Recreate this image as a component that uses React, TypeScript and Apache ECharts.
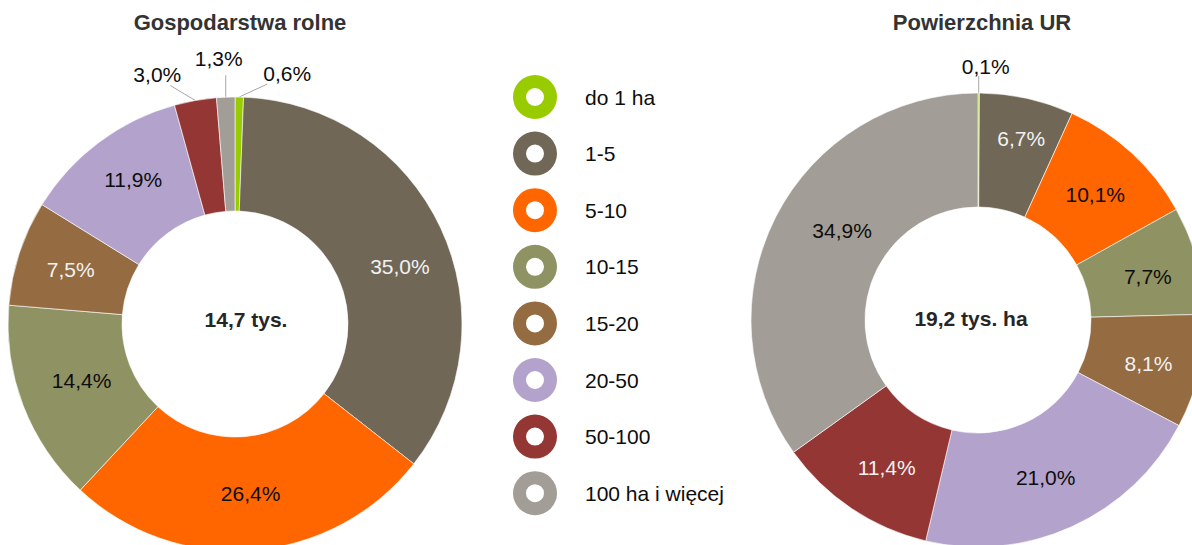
import React, { useEffect, useRef } from "react";
import * as echarts from "echarts";

const categories = ["do 1 ha", "1-5", "5-10", "10-15", "15-20", "20-50", "50-100", "100 ha i więcej"];
const farmsShare = [0.6, 35.0, 26.4, 14.4, 7.5, 11.9, 3.0, 1.3];
const areaShare = [0.1, 6.7, 10.1, 7.7, 8.1, 21.0, 11.4, 34.9];
const titles = ["Gospodarstwa rolne", "Powierzchnia UR"];
const totals = ["14,7 tys.", "19,2 tys. ha"];

const colors = ["#99CC00", "#716757", "#FF6600", "#8F9263", "#956B42", "#B3A2CC", "#943634", "#A29E97"];
const LIGHT = "#f2f2f2";
const DARK = "#0d0d0d";
const farmsLabelColors = [DARK, LIGHT, DARK, DARK, LIGHT, DARK, DARK, DARK];
const areaLabelColors = [DARK, LIGHT, DARK, DARK, LIGHT, DARK, LIGHT, DARK];

// outside label placement: [labelDx, labelDy, lineEndDx, lineEndDy] relative to the slice's outer edge point
const farmsOutside: Record<number, number[]> = {
  0: [48, -24, 28, -13],
  6: [-38, -26, -25, -15],
  7: [-7, -39, 0, -22],
};
const areaOutside: Record<number, number[]> = {
  0: [7, -27, 0, -17],
};
// small nudges of inside labels: [dx, dy]
const farmsNudge: Record<number, number[]> = {
  1: [8, 15],
  2: [2, -3],
  3: [8, -6],
  5: [2, -6],
};
const areaNudge: Record<number, number[]> = {
  1: [6, -13],
  2: [0, 2],
  3: [3, 2],
  4: [2, 4],
  5: [-4, 0],
  6: [5, 4],
  7: [18, -10],
};

const FONT = "'Liberation Sans', Arial, sans-serif";
const RING = "path://M22,0A22,22,0,1,1,22,44A22,22,0,1,1,22,0ZM22,13A9,9,0,1,0,22,31A9,9,0,1,0,22,13Z";

function fmt(v: number) {
  return v.toFixed(1).replace(".", ",") + "%";
}

function buildData(values: number[], labelColors: string[], outside: Record<number, number[]>) {
  return values.map((v, i) => ({
    name: categories[i],
    value: v,
    itemStyle: { color: colors[i] },
    label: outside[i]
      ? { position: "outside", color: DARK }
      : { position: "inside", color: labelColors[i] },
    labelLine: { show: !!outside[i] },
  }));
}

function makeLayout(outside: Record<number, number[]>, nudge: Record<number, number[]>) {
  return (params: any) => {
    const o = outside[params.dataIndex];
    if (!o) {
      const n = nudge[params.dataIndex];
      return n ? { dx: n[0], dy: n[1] } : {};
    }
    if (!params.labelLinePoints) return {};
    const p0 = params.labelLinePoints[0];
    const end = [p0[0] + o[2], p0[1] + o[3]];
    return {
      x: p0[0] + o[0],
      y: p0[1] + o[1],
      align: "center",
      verticalAlign: "middle",
      labelLinePoints: [p0, end, end],
    };
  };
}

function centerText(text: string, x: number, y: number, font: string, fill: string) {
  return {
    type: "text",
    x,
    y,
    style: {
      text,
      font,
      fill,
      align: "center",
      verticalAlign: "middle",
      textAlign: "center",
      textVerticalAlign: "middle",
    },
  };
}

export default function App() {
  const ref = useRef<HTMLDivElement>(null);
  useEffect(() => {
    if (!ref.current) return;
    const chart = echarts.init(ref.current, undefined, { renderer: "svg" });
    const pieBase = {
      type: "pie",
      radius: [113, 227],
      startAngle: 90,
      clockwise: true,
      avoidLabelOverlap: false,
      itemStyle: { borderColor: "#ffffff", borderWidth: 0.6 },
      label: {
        show: true,
        fontFamily: FONT,
        fontSize: 21,
        formatter: (p: any) => fmt(p.value),
      },
      labelLine: {
        show: false,
        smooth: false,
        lineStyle: { color: "#a6a6a6", width: 1 },
      },
      emphasis: { disabled: true },
    };
    chart.setOption({
      animation: false,
      backgroundColor: "#ffffff",
      legend: {
        orient: "vertical",
        left: 513,
        top: 75,
        padding: 0,
        itemWidth: 44,
        itemHeight: 44,
        itemGap: 12.6,
        icon: RING,
        data: categories,
        itemStyle: { borderWidth: 0 },
        textStyle: {
          fontFamily: FONT,
          fontSize: 21,
          color: DARK,
          padding: [0, 0, 0, 23],
        },
        selectedMode: false,
      },
      graphic: [
        centerText(titles[0], 240, 22, "bold 22px " + FONT, "#333333"),
        centerText(titles[1], 982, 22, "bold 22px " + FONT, "#333333"),
        centerText(totals[0], 246, 319, "bold 21px " + FONT, "#262626"),
        centerText(totals[1], 971, 318, "bold 21px " + FONT, "#262626"),
      ],
      series: [
        {
          ...pieBase,
          name: titles[0],
          center: [235, 324],
          data: buildData(farmsShare, farmsLabelColors, farmsOutside),
          labelLayout: makeLayout(farmsOutside, farmsNudge),
        },
        {
          ...pieBase,
          name: titles[1],
          center: [978, 320],
          data: buildData(areaShare, areaLabelColors, areaOutside),
          labelLayout: makeLayout(areaOutside, areaNudge),
        },
      ],
    });
    return () => chart.dispose();
  }, []);
  return (
    <div
      ref={ref}
      style={{ position: "absolute", left: 0, top: 0, width: 1192, height: 545 }}
    />
  );
}
